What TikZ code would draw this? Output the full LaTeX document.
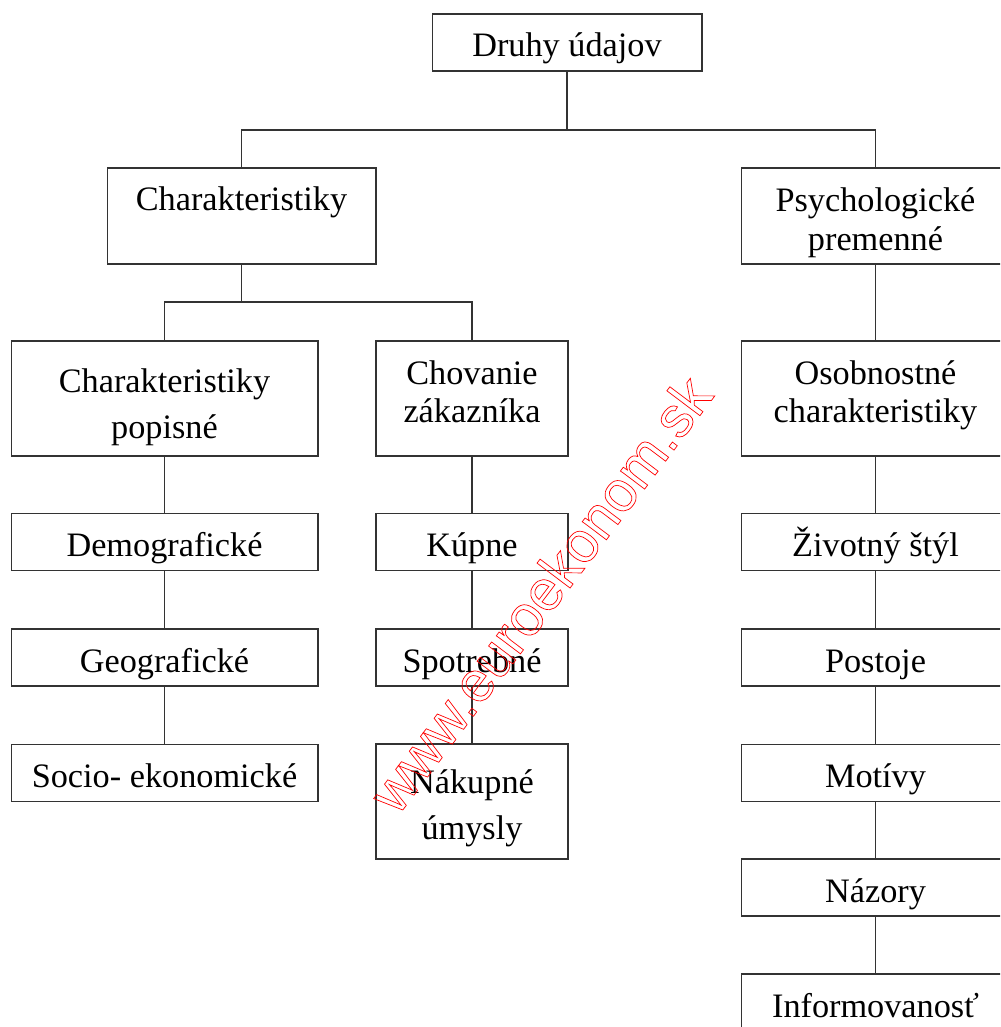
\documentclass[tikz,border=0pt]{standalone}
\usepackage{fontspec}
\setmainfont{Liberation Serif}
\newfontfamily\wmfont{Liberation Sans}
\usetikzlibrary{positioning}

\begin{document}
\begin{tikzpicture}[x=0.02cm, y=-0.02cm,
  box/.style={draw=black!80, line width=0.6pt, fill=white, inner sep=0pt,
    align=center, font=\fontsize{19.5}{22}\selectfont},
  single/.style={box, minimum height=1.14cm, text height=0.58cm, text depth=0cm},
  double/.style={box, minimum height=2.3cm},
  wide/.style={minimum width=6.14cm},
  narrow/.style={minimum width=3.84cm},
  side/.style={minimum width=5.38cm},
  link/.style={draw=black!80, line width=0.6pt}]

  % --- canvas ---
  \useasboundingbox (0,0) rectangle (1000,1027);
  \clip (0,0) rectangle (1000,1027);

  % --- top levels ---
  \node[single, minimum width=5.4cm] (druhy) at (567,42.5) {Druhy údajov};
  \node[box, minimum width=5.38cm, minimum height=1.92cm,
        text height=0.5cm, text depth=0.74cm] (charakt) at (241.5,216) {Charakteristiky};
  \node[box, side, minimum height=1.92cm] (psych) at (875.5,216)
    {\rule{0pt}{21.5pt}Psychologické\\premenné};

  \coordinate (split1) at (567,130);
  \coordinate (split2) at (241.5,302);

  % --- second row ---
  \node[double, wide]   (popis) at (164.5,398.5)
    {\rule{0pt}{23.5pt}Charakteristiky\\[4.5pt]popisné};
  \node[double, narrow] (chov)  at (472,398.5)
    {Chovanie\\zákazníka\rule[-8pt]{0pt}{8pt}};
  \node[double, side]   (osob)  at (875.5,398.5)
    {Osobnostné\\charakteristiky\rule[-8pt]{0pt}{8pt}};

  % left column
  \node[single, wide] (demo)  at (164.5,542)   {Demografické};
  \node[single, wide] (geo)   at (164.5,657.5) {Geografické};
  \node[single, wide] (socio) at (164.5,773)   {Socio- ekonomické};

  % middle column
  \node[single, narrow] (kup)   at (472,542)   {Kúpne};
  \node[single, narrow] (spotr) at (472,657.5) {Spotrebné};
  \node[double, narrow] (nakup) at (472,801.5)
    {\rule{0pt}{21.5pt}Nákupné\\[4pt]úmysly};

  % right column
  \node[single, side] (zivot)  at (875.5,542)    {Životný štýl};
  \node[single, side] (post)   at (875.5,657.5)  {Postoje};
  \node[single, side] (motiv)  at (875.5,773)    {Motívy};
  \node[single, side] (nazor)  at (875.5,887.5)  {Názory};
  \node[single, side] (inform) at (875.5,1002.5) {Informovanosť};

  % --- connectors ---
  \draw[link] (druhy.south) -- (split1);
  \draw[link] (charakt.north) |- (split1) -| (psych.north);
  \draw[link] (charakt.south) -- (split2);
  \draw[link] (popis.north) |- (split2) -| (chov.north);
  \foreach \a/\b in {psych/osob, popis/demo, demo/geo, geo/socio,
                     chov/kup, kup/spotr, spotr/nakup,
                     osob/zivot, zivot/post, post/motiv, motiv/nazor, nazor/inform}
    \draw[link] (\a) -- (\b);

  % --- watermark ---
  \node[rotate=53, text=red, inner sep=0pt, font=\wmfont\fontsize{32.5}{34}\selectfont]
    (wm) at (540,594) {\special{pdf:literal 1 Tr 0.4 w}www.euroekonom.sk\special{pdf:literal 0 Tr}};

\end{tikzpicture}
\end{document}
